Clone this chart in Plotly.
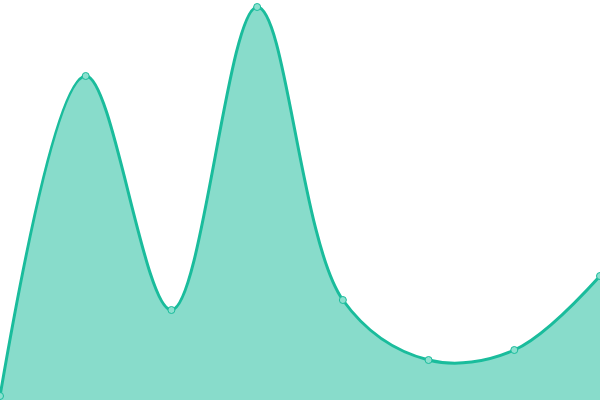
import plotly.graph_objects as go

categories = [0, 1, 2, 3, 4, 5, 6, 7]
values = [1, 81, 22.5, 98.25, 25, 10, 12.5, 31]

fig = go.Figure(go.Scatter(
    x=categories, y=values, mode="lines+markers", fill="tozeroy",
    line=dict(color="#1abc9c", width=3, shape="spline", smoothing=1),
    fillcolor="rgba(26,188,156,0.52)",
    marker=dict(size=7, color="#8ce0cf", line=dict(color="#1abc9c", width=1)),
    cliponaxis=False,
))
fig.update_layout(
    width=600, height=400, margin=dict(l=0, r=0, t=0, b=0),
    paper_bgcolor="white", plot_bgcolor="white", showlegend=False,
    xaxis=dict(range=[0, 7], visible=False, fixedrange=True),
    yaxis=dict(range=[0, 100], visible=False, fixedrange=True),
)
fig.write_html("out.html", config={"displayModeBar": False},
               post_script="document.body.style.margin='0';document.body.style.padding='0';")
